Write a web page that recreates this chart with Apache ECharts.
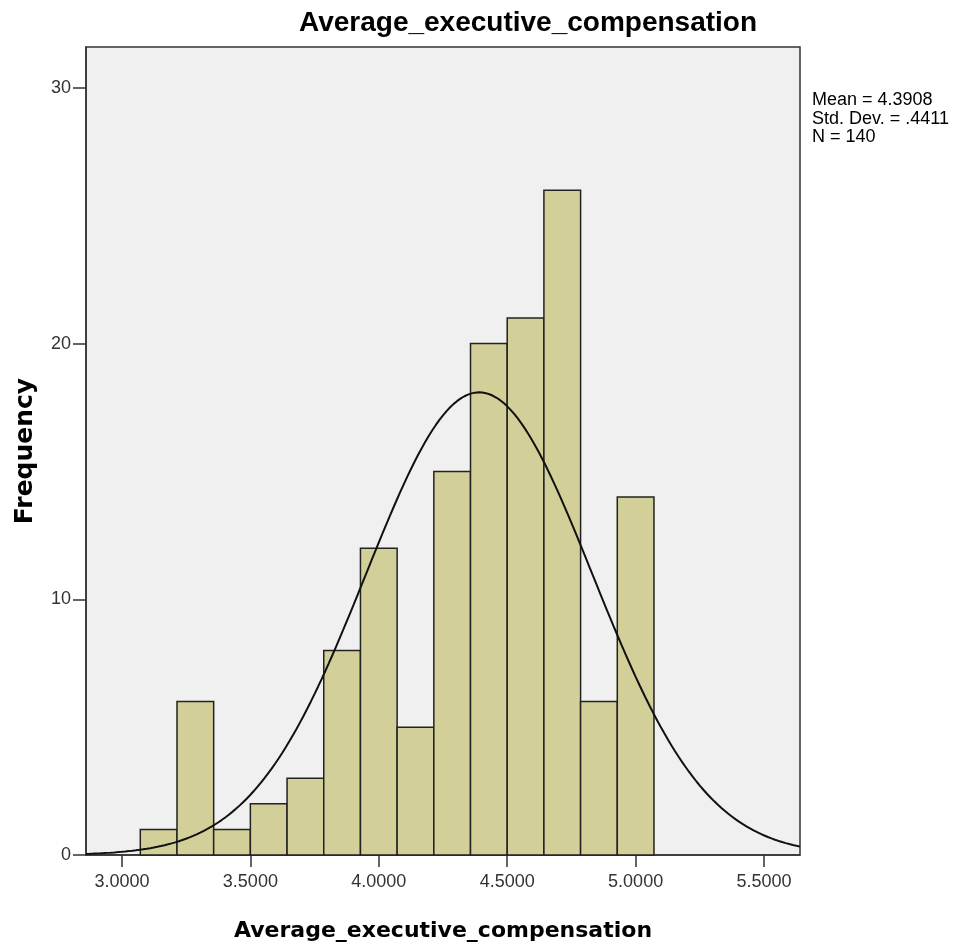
<!DOCTYPE html>
<html>
<head>
<meta charset="utf-8">
<script src="https://cdn.jsdelivr.net/npm/echarts@6/dist/echarts.min.js"></script>
<style>
  html, body { margin: 0; padding: 0; background: #fff; }
  #chart { width: 959px; height: 949px; }
</style>
</head>
<body>
<div id="chart"></div>
<script>
// histogram bins (edges) and frequencies
var binEdges = [3.0714, 3.2143, 3.3571, 3.5, 3.6429, 3.7857, 3.9286, 4.0714,
                4.2143, 4.3571, 4.5, 4.6429, 4.7857, 4.9286, 5.0714];
var counts = [1, 6, 1, 2, 3, 8, 12, 5, 15, 20, 21, 26, 6, 14];
var xTicks = [3.0, 3.5, 4.0, 4.5, 5.0, 5.5];
var yTicks = [0, 10, 20, 30];

// summary stats shown in the legend box
var MEAN = 4.3908, SD = 0.4411, N = 140;
var X_MIN = 2.86, X_MAX = 5.64;

var bars = [];
for (var i = 0; i < counts.length; i++) {
  bars.push([binEdges[i], binEdges[i + 1], counts[i]]);
}

// normal curve overlay (scaled by N * bin width)
var binWidth = binEdges[1] - binEdges[0];
var curve = [];
for (var k = 0; k <= 200; k++) {
  var x = X_MIN + (X_MAX - X_MIN) * k / 200;
  var z = (x - MEAN) / SD;
  curve.push([x, N * binWidth * Math.exp(-0.5 * z * z) / (SD * Math.sqrt(2 * Math.PI))]);
}

var myChart = echarts.init(document.getElementById('chart'));

var option = {
  animation: false,
  backgroundColor: '#ffffff',
  grid: {
    left: 86, right: 159, top: 47, bottom: 94,
    show: true,
    backgroundColor: '#F0F0F0',
    borderColor: '#333',
    borderWidth: 1.5
  },
  graphic: [
    {
      type: 'text', left: 299, top: 9,
      style: {
        text: 'Average_executive_compensation',
        font: 'bold 28px "Liberation Sans", Arial, sans-serif',
        fill: '#000'
      }
    },
    {
      type: 'text', left: 812, top: 91,
      style: {
        text: 'Mean = ' + MEAN.toFixed(4) + '\nStd. Dev. = .' + SD.toFixed(4).split('.')[1] + '\nN = ' + N,
        font: '18px "Liberation Sans", Arial, sans-serif',
        lineHeight: 18.5,
        fill: '#000'
      }
    }
  ],
  xAxis: {
    type: 'value',
    min: X_MIN,
    max: X_MAX,
    name: 'Average_executive_compensation',
    nameLocation: 'middle',
    nameGap: 65,
    nameTextStyle: {
      fontFamily: 'DejaVu Sans',
      fontWeight: 'bold',
      fontSize: 22,
      color: '#000'
    },
    axisLine: { show: true, onZero: false, lineStyle: { color: '#333', width: 1.5 } },
    axisTick: {
      show: true, length: 12, customValues: xTicks,
      lineStyle: { color: '#333', width: 1.5 }
    },
    axisLabel: {
      customValues: xTicks,
      margin: 18,
      fontFamily: 'Liberation Sans',
      fontSize: 18,
      color: '#333',
      formatter: function (v) { return v.toFixed(4); }
    },
    splitLine: { show: false }
  },
  yAxis: {
    type: 'value',
    min: 0,
    max: 31.6,
    name: 'Frequency',
    nameLocation: 'middle',
    nameGap: 48,
    nameTextStyle: {
      fontFamily: 'DejaVu Sans',
      fontWeight: 'bold',
      fontSize: 25,
      color: '#000'
    },
    axisLine: { show: true, lineStyle: { color: '#333', width: 1.5 } },
    axisTick: {
      show: true, length: 13, customValues: yTicks,
      lineStyle: { color: '#333', width: 1.5 }
    },
    axisLabel: {
      customValues: yTicks,
      margin: 15,
      fontFamily: 'Liberation Sans',
      fontSize: 18,
      color: '#333'
    },
    splitLine: { show: false }
  },
  series: [
    {
      type: 'custom',
      data: bars,
      encode: { x: [0, 1], y: 2 },
      renderItem: function (params, api) {
        var p0 = api.coord([api.value(0), 0]);
        var p1 = api.coord([api.value(1), api.value(2)]);
        return {
          type: 'rect',
          shape: { x: p0[0], y: p1[1], width: p1[0] - p0[0], height: p0[1] - p1[1] },
          style: { fill: '#D3CF98', stroke: '#222', lineWidth: 1.5 }
        };
      }
    },
    {
      type: 'line',
      data: curve,
      showSymbol: false,
      symbol: 'none',
      clip: true,
      lineStyle: { color: '#111', width: 2 },
      z: 5
    }
  ]
};

myChart.setOption(option);
</script>
</body>
</html>
